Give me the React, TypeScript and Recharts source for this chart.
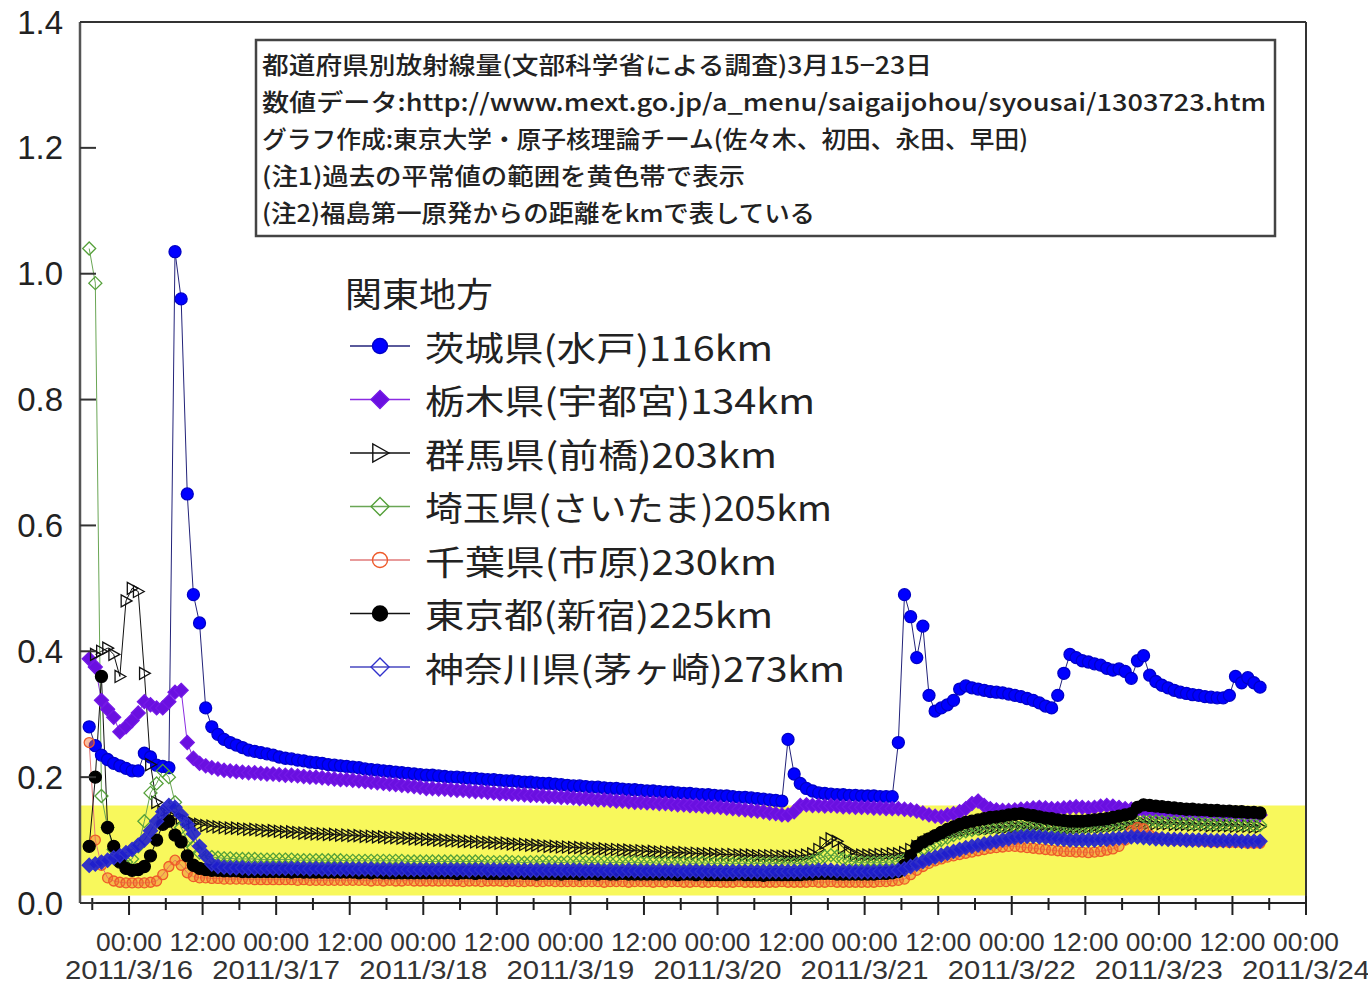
import React from "react";
import {
  LineChart,
  Line,
  XAxis,
  YAxis,
  ReferenceArea,
  ReferenceLine,
  Legend,
} from "recharts";

// hours after 2011/3/16 00:00 — hourly readings, plotted at the half hour
const HOURS: number[] = [
  -6.5, -5.5, -4.5, -3.5, -2.5, -1.5, -0.5,
  0.5, 1.5, 2.5, 3.5, 4.5, 5.5, 6.5, 7.5, 8.5, 9.5, 10.5, 11.5,
  12.5, 13.5, 14.5, 15.5, 16.5, 17.5, 18.5, 19.5, 20.5, 21.5, 22.5, 23.5,
  24.5, 25.5, 26.5, 27.5, 28.5, 29.5, 30.5, 31.5, 32.5, 33.5, 34.5, 35.5,
  36.5, 37.5, 38.5, 39.5, 40.5, 41.5, 42.5, 43.5, 44.5, 45.5, 46.5, 47.5,
  48.5, 49.5, 50.5, 51.5, 52.5, 53.5, 54.5, 55.5, 56.5, 57.5, 58.5, 59.5,
  60.5, 61.5, 62.5, 63.5, 64.5, 65.5, 66.5, 67.5, 68.5, 69.5, 70.5, 71.5,
  72.5, 73.5, 74.5, 75.5, 76.5, 77.5, 78.5, 79.5, 80.5, 81.5, 82.5, 83.5,
  84.5, 85.5, 86.5, 87.5, 88.5, 89.5, 90.5, 91.5, 92.5, 93.5, 94.5, 95.5,
  96.5, 97.5, 98.5, 99.5, 100.5, 101.5, 102.5, 103.5, 104.5, 105.5, 106.5, 107.5,
  108.5, 109.5, 110.5, 111.5, 112.5, 113.5, 114.5, 115.5, 116.5, 117.5, 118.5, 119.5,
  120.5, 121.5, 122.5, 123.5, 124.5, 125.5, 126.5, 127.5, 128.5, 129.5, 130.5, 131.5,
  132.5, 133.5, 134.5, 135.5, 136.5, 137.5, 138.5, 139.5, 140.5, 141.5, 142.5, 143.5,
  144.5, 145.5, 146.5, 147.5, 148.5, 149.5, 150.5, 151.5, 152.5, 153.5, 154.5, 155.5,
  156.5, 157.5, 158.5, 159.5, 160.5, 161.5, 162.5, 163.5, 164.5, 165.5, 166.5, 167.5,
  168.5, 169.5, 170.5, 171.5, 172.5, 173.5, 174.5, 175.5, 176.5, 177.5, 178.5, 179.5,
  180.5, 181.5, 182.5, 183.5, 184.5,
];

// μSv/h, one row = 12 hours
const IBARAKI = [
  0.28, 0.25, 0.235, 0.228, 0.222, 0.218, 0.214,
  0.21, 0.21, 0.238, 0.232, 0.219, 0.217, 0.215, 1.035, 0.96, 0.65, 0.49, 0.445,
  0.31, 0.28, 0.268, 0.26, 0.255, 0.251, 0.247, 0.243, 0.241, 0.239, 0.237, 0.235,
  0.232, 0.23, 0.229, 0.227, 0.226, 0.224, 0.223, 0.222, 0.22, 0.219, 0.218, 0.217,
  0.216, 0.215, 0.213, 0.212, 0.211, 0.21, 0.209, 0.208, 0.207, 0.206, 0.205, 0.204,
  0.203, 0.203, 0.202, 0.201, 0.2, 0.2, 0.199, 0.198, 0.198, 0.197, 0.196, 0.196,
  0.195, 0.194, 0.194, 0.193, 0.192, 0.192, 0.191, 0.19, 0.19, 0.189, 0.188, 0.187,
  0.186, 0.186, 0.185, 0.184, 0.184, 0.183, 0.182, 0.182, 0.181, 0.18, 0.18, 0.179,
  0.178, 0.178, 0.177, 0.176, 0.176, 0.175, 0.174, 0.174, 0.173, 0.172, 0.172, 0.171,
  0.17, 0.17, 0.169, 0.168, 0.168, 0.167, 0.166, 0.165, 0.164, 0.163, 0.162, 0.26,
  0.205, 0.19, 0.182, 0.178, 0.175, 0.174, 0.173, 0.172, 0.172, 0.171, 0.171, 0.17,
  0.17, 0.17, 0.169, 0.169, 0.169, 0.255, 0.49, 0.455, 0.39, 0.44, 0.33, 0.305,
  0.31, 0.315, 0.322, 0.34, 0.345, 0.342, 0.34, 0.338, 0.336, 0.335, 0.334, 0.332,
  0.33, 0.328, 0.325, 0.322, 0.318, 0.313, 0.31, 0.33, 0.365, 0.395, 0.39, 0.385,
  0.383, 0.38, 0.378, 0.373, 0.37, 0.372, 0.368, 0.357, 0.385, 0.393, 0.362, 0.352,
  0.346, 0.342, 0.338, 0.335, 0.333, 0.331, 0.33, 0.328, 0.327, 0.326, 0.326, 0.33,
  0.36, 0.35, 0.358, 0.35, 0.343,
];

const TOCHIGI = [
  0.388, 0.375, 0.322, 0.308, 0.295, 0.272, 0.28,
  0.29, 0.302, 0.32, 0.315, 0.31, 0.31, 0.32, 0.335, 0.338, 0.255, 0.23, 0.222,
  0.218, 0.215, 0.213, 0.211, 0.21, 0.209, 0.208, 0.207, 0.207, 0.206, 0.205, 0.205,
  0.204, 0.203, 0.203, 0.202, 0.201, 0.2, 0.2, 0.199, 0.198, 0.197, 0.196, 0.196,
  0.195, 0.194, 0.193, 0.192, 0.191, 0.19, 0.189, 0.188, 0.187, 0.186, 0.185, 0.184,
  0.182, 0.182, 0.181, 0.181, 0.18, 0.179, 0.179, 0.178, 0.177, 0.177, 0.176, 0.175,
  0.174, 0.174, 0.173, 0.173, 0.172, 0.171, 0.171, 0.17, 0.169, 0.169, 0.168, 0.168,
  0.167, 0.166, 0.166, 0.165, 0.164, 0.164, 0.163, 0.162, 0.162, 0.161, 0.16, 0.16,
  0.159, 0.159, 0.158, 0.158, 0.157, 0.156, 0.156, 0.155, 0.155, 0.154, 0.153, 0.153,
  0.152, 0.151, 0.15, 0.149, 0.148, 0.147, 0.146, 0.145, 0.143, 0.142, 0.14, 0.14,
  0.145, 0.155, 0.156, 0.155, 0.155, 0.154, 0.155, 0.154, 0.153, 0.153, 0.152, 0.152,
  0.152, 0.151, 0.151, 0.15, 0.15, 0.15, 0.149, 0.148, 0.146, 0.143, 0.14, 0.138,
  0.137, 0.14, 0.142, 0.145, 0.15, 0.158, 0.162, 0.155, 0.15, 0.148, 0.147, 0.147,
  0.148, 0.149, 0.15, 0.151, 0.152, 0.151, 0.15, 0.15, 0.151, 0.152, 0.153, 0.152,
  0.151, 0.152, 0.154, 0.155, 0.154, 0.152, 0.15, 0.149, 0.148, 0.147, 0.147, 0.146,
  0.146, 0.145, 0.145, 0.144, 0.144, 0.144, 0.143, 0.143, 0.143, 0.142, 0.142, 0.142,
  0.142, 0.141, 0.141, 0.141, 0.14,
];

const GUNMA = [
  null, 0.395, 0.4, 0.405, 0.395, 0.36, 0.48,
  0.5, 0.495, 0.365, 0.22, 0.16, 0.145, 0.14, 0.138, 0.135, 0.13, 0.127, 0.125,
  0.123, 0.122, 0.121, 0.12, 0.119, 0.119, 0.118, 0.117, 0.117, 0.116, 0.115, 0.115,
  0.114, 0.113, 0.113, 0.112, 0.111, 0.111, 0.11, 0.11, 0.109, 0.109, 0.108, 0.108,
  0.107, 0.107, 0.106, 0.106, 0.105, 0.105, 0.104, 0.104, 0.103, 0.103, 0.102, 0.102,
  0.101, 0.101, 0.1, 0.1, 0.099, 0.099, 0.098, 0.098, 0.097, 0.097, 0.096, 0.096,
  0.095, 0.095, 0.094, 0.093, 0.093, 0.092, 0.092, 0.091, 0.09, 0.09, 0.089, 0.089,
  0.088, 0.088, 0.087, 0.087, 0.086, 0.086, 0.085, 0.085, 0.084, 0.084, 0.083, 0.083,
  0.082, 0.082, 0.081, 0.081, 0.08, 0.08, 0.08, 0.079, 0.079, 0.078, 0.078, 0.078,
  0.077, 0.077, 0.077, 0.076, 0.076, 0.076, 0.075, 0.075, 0.075, 0.075, 0.074, 0.074,
  0.074, 0.075, 0.076, 0.078, 0.085, 0.095, 0.102, 0.098, 0.088, 0.08, 0.077, 0.076,
  0.076, 0.076, 0.077, 0.077, 0.078, 0.078, 0.08, 0.085, 0.09, 0.095, 0.1, 0.104,
  0.107, 0.11, 0.112, 0.114, 0.116, 0.117, 0.118, 0.118, 0.119, 0.12, 0.12, 0.121,
  0.121, 0.121, 0.12, 0.12, 0.119, 0.119, 0.118, 0.118, 0.118, 0.119, 0.119, 0.12,
  0.12, 0.121, 0.121, 0.122, 0.123, 0.124, 0.125, 0.126, 0.127, 0.127, 0.127, 0.126,
  0.126, 0.126, 0.125, 0.125, 0.125, 0.124, 0.124, 0.124, 0.123, 0.123, 0.123, 0.123,
  0.122, 0.122, 0.122, 0.121, 0.121,
];

const SAITAMA = [
  1.04, 0.985, 0.17, 0.12, 0.085, 0.07, 0.065,
  0.07, 0.09, 0.13, 0.175, 0.19, 0.21, 0.2, 0.16, 0.12, 0.1, 0.088, 0.08,
  0.075, 0.073, 0.072, 0.071, 0.071, 0.07, 0.07, 0.07, 0.07, 0.069, 0.069, 0.069,
  0.069, 0.069, 0.069, 0.068, 0.068, 0.068, 0.068, 0.068, 0.068, 0.068, 0.068, 0.067,
  0.067, 0.067, 0.067, 0.067, 0.067, 0.067, 0.067, 0.067, 0.067, 0.066, 0.066, 0.066,
  0.066, 0.066, 0.066, 0.066, 0.066, 0.066, 0.066, 0.066, 0.066, 0.066, 0.065, 0.065,
  0.065, 0.066, 0.065, 0.065, 0.064, 0.065, 0.065, 0.066, 0.065, 0.065, 0.064, 0.065,
  0.065, 0.066, 0.065, 0.064, 0.065, 0.065, 0.064, 0.065, 0.064, 0.064, 0.065, 0.064,
  0.064, 0.064, 0.063, 0.064, 0.064, 0.063, 0.064, 0.063, 0.063, 0.064, 0.063, 0.063,
  0.063, 0.063, 0.062, 0.063, 0.063, 0.062, 0.063, 0.062, 0.062, 0.063, 0.062, 0.062,
  0.062, 0.063, 0.064, 0.066, 0.07, 0.074, 0.076, 0.074, 0.07, 0.067, 0.065, 0.064,
  0.064, 0.064, 0.064, 0.065, 0.065, 0.066, 0.068, 0.072, 0.078, 0.085, 0.09, 0.095,
  0.1, 0.104, 0.108, 0.111, 0.114, 0.116, 0.118, 0.119, 0.12, 0.121, 0.122, 0.122,
  0.122, 0.121, 0.12, 0.119, 0.118, 0.117, 0.117, 0.117, 0.118, 0.118, 0.119, 0.12,
  0.12, 0.121, 0.122, 0.123, 0.124, 0.125, 0.126, 0.127, 0.128, 0.129, 0.13, 0.13,
  0.129, 0.129, 0.128, 0.128, 0.127, 0.127, 0.127, 0.126, 0.126, 0.126, 0.126, 0.125,
  0.125, 0.125, 0.125, 0.124, 0.124,
];

const CHIBA = [
  0.255, 0.1, 0.06, 0.04, 0.035, 0.033, 0.032,
  0.032, 0.032, 0.032, 0.033, 0.035, 0.045, 0.058, 0.068, 0.06, 0.048, 0.042, 0.04,
  0.04, 0.039, 0.039, 0.038, 0.038, 0.038, 0.038, 0.038, 0.037, 0.037, 0.037, 0.037,
  0.037, 0.037, 0.037, 0.036, 0.037, 0.036, 0.036, 0.036, 0.036, 0.036, 0.036, 0.036,
  0.036, 0.036, 0.036, 0.035, 0.036, 0.035, 0.036, 0.035, 0.035, 0.036, 0.035, 0.035,
  0.035, 0.035, 0.035, 0.035, 0.035, 0.035, 0.034, 0.035, 0.035, 0.034, 0.035, 0.035,
  0.035, 0.034, 0.035, 0.034, 0.034, 0.035, 0.034, 0.034, 0.035, 0.034, 0.034, 0.034,
  0.034, 0.034, 0.034, 0.034, 0.034, 0.033, 0.034, 0.034, 0.034, 0.033, 0.034, 0.034,
  0.034, 0.033, 0.034, 0.033, 0.034, 0.034, 0.033, 0.033, 0.034, 0.033, 0.033, 0.034,
  0.033, 0.033, 0.033, 0.034, 0.033, 0.033, 0.033, 0.033, 0.033, 0.033, 0.034, 0.033,
  0.033, 0.033, 0.033, 0.034, 0.033, 0.033, 0.034, 0.033, 0.033, 0.033, 0.033, 0.033,
  0.033, 0.033, 0.034, 0.034, 0.035, 0.036, 0.038, 0.045, 0.052, 0.058, 0.063, 0.067,
  0.07, 0.073, 0.075, 0.077, 0.079, 0.081, 0.083, 0.085, 0.087, 0.088, 0.089, 0.09,
  0.09, 0.089, 0.088, 0.087, 0.086, 0.085, 0.084, 0.083, 0.082, 0.082, 0.081, 0.081,
  0.08, 0.081, 0.082, 0.084, 0.086, 0.09, 0.1, 0.115, 0.12, 0.118, 0.108, 0.104,
  0.102, 0.101, 0.1, 0.1, 0.099, 0.099, 0.098, 0.098, 0.097, 0.097, 0.097, 0.096,
  0.096, 0.096, 0.095, 0.095, 0.095,
];

const TOKYO = [
  0.09, 0.2, 0.36, 0.12, 0.09, 0.065, 0.055,
  0.052, 0.053, 0.058, 0.075, 0.1, 0.125, 0.13, 0.108, 0.097, 0.075, 0.06, 0.055,
  0.053, 0.052, 0.052, 0.051, 0.051, 0.051, 0.05, 0.05, 0.05, 0.05, 0.05, 0.05,
  0.05, 0.05, 0.049, 0.05, 0.049, 0.049, 0.049, 0.049, 0.049, 0.049, 0.049, 0.049,
  0.049, 0.048, 0.049, 0.048, 0.049, 0.048, 0.048, 0.048, 0.048, 0.048, 0.048, 0.048,
  0.048, 0.048, 0.048, 0.048, 0.048, 0.047, 0.048, 0.048, 0.047, 0.048, 0.047, 0.047,
  0.047, 0.047, 0.047, 0.048, 0.047, 0.047, 0.046, 0.047, 0.047, 0.047, 0.046, 0.047,
  0.047, 0.046, 0.047, 0.047, 0.046, 0.047, 0.046, 0.046, 0.047, 0.046, 0.046, 0.046,
  0.046, 0.046, 0.046, 0.046, 0.046, 0.045, 0.046, 0.046, 0.045, 0.046, 0.045, 0.045,
  0.045, 0.045, 0.045, 0.046, 0.045, 0.045, 0.045, 0.044, 0.045, 0.045, 0.045, 0.045,
  0.045, 0.045, 0.046, 0.046, 0.047, 0.047, 0.047, 0.046, 0.046, 0.046, 0.046, 0.046,
  0.046, 0.046, 0.047, 0.047, 0.048, 0.05, 0.06, 0.075, 0.09, 0.097, 0.102, 0.107,
  0.112, 0.117, 0.121, 0.125, 0.128, 0.13, 0.132, 0.134, 0.136, 0.137, 0.138, 0.14,
  0.141, 0.142, 0.14, 0.139, 0.137, 0.135, 0.134, 0.132, 0.131, 0.13, 0.13, 0.13,
  0.131, 0.132, 0.133, 0.134, 0.136, 0.138, 0.14, 0.142, 0.152, 0.156, 0.155, 0.154,
  0.153, 0.152, 0.151, 0.15, 0.149, 0.149, 0.148, 0.148, 0.147, 0.147, 0.146, 0.146,
  0.145, 0.145, 0.144, 0.144, 0.143,
];

const KANAGAWA = [
  0.06, 0.062, 0.065, 0.068, 0.072, 0.075, 0.08,
  0.085, 0.092, 0.1, 0.115, 0.13, 0.145, 0.155, 0.152, 0.14, 0.125, 0.11, 0.09,
  0.075, 0.062, 0.058, 0.057, 0.056, 0.056, 0.056, 0.055, 0.055, 0.055, 0.055, 0.055,
  0.055, 0.055, 0.055, 0.055, 0.055, 0.054, 0.055, 0.054, 0.054, 0.054, 0.054, 0.054,
  0.054, 0.054, 0.054, 0.054, 0.053, 0.054, 0.053, 0.053, 0.054, 0.053, 0.053, 0.053,
  0.053, 0.053, 0.053, 0.053, 0.053, 0.053, 0.053, 0.052, 0.053, 0.053, 0.052, 0.053,
  0.052, 0.053, 0.052, 0.052, 0.052, 0.052, 0.052, 0.052, 0.052, 0.052, 0.052, 0.052,
  0.052, 0.052, 0.051, 0.052, 0.052, 0.051, 0.052, 0.051, 0.051, 0.052, 0.051, 0.051,
  0.051, 0.051, 0.051, 0.051, 0.051, 0.051, 0.05, 0.051, 0.051, 0.05, 0.051, 0.05,
  0.05, 0.05, 0.05, 0.05, 0.05, 0.05, 0.05, 0.05, 0.05, 0.05, 0.05, 0.05,
  0.05, 0.05, 0.051, 0.051, 0.052, 0.052, 0.052, 0.051, 0.051, 0.05, 0.05, 0.05,
  0.05, 0.05, 0.05, 0.051, 0.051, 0.052, 0.054, 0.058, 0.062, 0.066, 0.07, 0.073,
  0.076, 0.079, 0.082, 0.085, 0.088, 0.09, 0.092, 0.094, 0.096, 0.098, 0.1, 0.102,
  0.104, 0.105, 0.106, 0.106, 0.105, 0.104, 0.103, 0.102, 0.101, 0.1, 0.1, 0.1,
  0.1, 0.1, 0.101, 0.101, 0.102, 0.103, 0.104, 0.105, 0.105, 0.104, 0.103, 0.102,
  0.102, 0.101, 0.101, 0.101, 0.1, 0.1, 0.1, 0.1, 0.099, 0.099, 0.099, 0.099,
  0.099, 0.098, 0.098, 0.098, 0.098,
];

// past normal range (yellow band)
const NORMAL_RANGE = [0.012, 0.155];

const Y_TICKS = [0, 0.2, 0.4, 0.6, 0.8, 1.0, 1.2, 1.4];
const X_TICKS = [
  -6, 0, 6, 12, 18, 24, 30, 36, 42, 48, 54, 60, 66, 72, 78, 84, 90, 96, 102,
  108, 114, 120, 126, 132, 138, 144, 150, 156, 162, 168, 174, 180, 186, 192,
];
const LABEL_HOURS = [0, 12, 24, 36, 48, 60, 72, 84, 96, 108, 120, 132, 144, 156, 168, 180, 192];
const LABEL_TIMES = [
  "00:00", "12:00", "00:00", "12:00", "00:00", "12:00", "00:00", "12:00", "00:00",
  "12:00", "00:00", "12:00", "00:00", "12:00", "00:00", "12:00", "00:00",
];
const DATE_HOURS = [0, 24, 48, 72, 96, 120, 144, 168, 192];
const DATE_LABELS = [
  "2011/3/16", "2011/3/17", "2011/3/18", "2011/3/19", "2011/3/20",
  "2011/3/21", "2011/3/22", "2011/3/23", "2011/3/24",
];

const LEGEND_TITLE = "関東地方";
const NOTE_LINES = [
  "都道府県別放射線量(文部科学省による調査)3月15−23日",
  "数値データ:http://www.mext.go.jp/a_menu/saigaijohou/syousai/1303723.htm",
  "グラフ作成:東京大学・原子核理論チーム(佐々木、初田、永田、早田)",
  "(注1)過去の平常値の範囲を黄色帯で表示",
  "(注2)福島第一原発からの距離をkmで表している",
];

type Kind = "circle" | "diamond" | "triangle";
interface SeriesDef {
  key: string;
  label: string;
  line: string;
  fill: string;
  plotFill?: string;
  stroke: string;
  kind: Kind;
  size: number;
}

const SERIES: SeriesDef[] = [
  { key: "ibaraki", label: "茨城県(水戸)116km", line: "#23237a", fill: "#0000ff", stroke: "#0000c8", kind: "circle", size: 6 },
  { key: "tochigi", label: "栃木県(宇都宮)134km", line: "#8a2be2", fill: "#6a10e0", stroke: "#7418e6", kind: "diamond", size: 7 },
  { key: "gunma", label: "群馬県(前橋)203km", line: "#111111", fill: "none", stroke: "#111111", kind: "triangle", size: 6 },
  { key: "saitama", label: "埼玉県(さいたま)205km", line: "#6aa655", fill: "none", stroke: "#55a03a", kind: "diamond", size: 6.5 },
  { key: "chiba", label: "千葉県(市原)230km", line: "#e07a7a", fill: "none", plotFill: "rgba(240,110,50,0.45)", stroke: "#ee5a2a", kind: "circle", size: 5 },
  { key: "tokyo", label: "東京都(新宿)225km", line: "#111111", fill: "#000000", stroke: "#000000", kind: "circle", size: 6 },
  { key: "kanagawa", label: "神奈川県(茅ヶ崎)273km", line: "#4848c0", fill: "none", plotFill: "rgba(30,30,205,0.9)", stroke: "#3030cc", kind: "diamond", size: 7 },
];

const VALUES: Record<string, (number | null)[]> = {
  ibaraki: IBARAKI,
  tochigi: TOCHIGI,
  gunma: GUNMA,
  saitama: SAITAMA,
  chiba: CHIBA,
  tokyo: TOKYO,
  kanagawa: KANAGAWA,
};

const rows = HOURS.map((t, i) => {
  const row: Record<string, number | null> = { t };
  SERIES.forEach((s) => {
    const v = VALUES[s.key][i];
    row[s.key] = v === undefined ? null : v;
  });
  return row;
});

const W = 1368;
const H = 983;
const LATIN = "'Liberation Sans', Arial, sans-serif";
const CJK = "'Noto Sans CJK JP', 'Noto Sans', sans-serif";

function marker(kind: Kind, cx: number, cy: number, s: number, fill: string, stroke: string, sw: number, key?: string) {
  if (kind === "circle") {
    return <circle key={key} cx={cx} cy={cy} r={s} fill={fill} stroke={stroke} strokeWidth={sw} />;
  }
  if (kind === "diamond") {
    return (
      <path
        key={key}
        d={`M${cx},${cy - s}L${cx + s},${cy}L${cx},${cy + s}L${cx - s},${cy}Z`}
        fill={fill}
        stroke={stroke}
        strokeWidth={sw}
      />
    );
  }
  return (
    <path
      key={key}
      d={`M${cx + s},${cy}L${cx - s * 0.8},${cy - s}L${cx - s * 0.8},${cy + s}Z`}
      fill={fill}
      stroke={stroke}
      strokeWidth={sw}
    />
  );
}

const makeDot = (s: SeriesDef) => (props: any) => {
  const { cx, cy, index } = props;
  const k = `${s.key}-${index}`;
  if (cx == null || cy == null || props.value == null) return <g key={k} />;
  return marker(s.kind, cx, cy, s.size, s.plotFill ?? s.fill, s.stroke, 1.3, k);
};

const YTick = (props: any) => {
  const { x, y, payload } = props;
  return (
    <g>
      <line x1={x} x2={x + 16} y1={y} y2={y} stroke="#333" strokeWidth={2} />
      <text x={x - 17} y={y} textAnchor="end" dominantBaseline="central" fontSize={33} fontFamily={LATIN} fill="#222">
        {Number(payload.value).toFixed(1)}
      </text>
    </g>
  );
};

const XTick = (props: any) => {
  const { x, y, payload } = props;
  const h = payload.value as number;
  const major = h % 12 === 0;
  const li = LABEL_HOURS.indexOf(h);
  const di = DATE_HOURS.indexOf(h);
  return (
    <g>
      <line x1={x} x2={x} y1={y - (major ? 7 : 5)} y2={y + (major ? 12 : 7)} stroke="#222" strokeWidth={2} />
      {li >= 0 && (
        <text x={x} y={y + 39} textAnchor="middle" dominantBaseline="central" fontSize={25} fontFamily={LATIN} fill="#333" textLength={66} lengthAdjust="spacingAndGlyphs">
          {LABEL_TIMES[li]}
        </text>
      )}
      {di >= 0 && (
        <text x={x} y={y + 67} textAnchor="middle" dominantBaseline="central" fontSize={25} fontFamily={LATIN} fill="#333" textLength={128} lengthAdjust="spacingAndGlyphs">
          {DATE_LABELS[di]}
        </text>
      )}
    </g>
  );
};

// widths of legend labels as drawn in the original
const LEGEND_WIDTHS = [348, 390, 352, 407, 352, 348, 420];

const LegendBox = () => (
  <svg width={540} height={440} style={{ display: "block" }}>
    <text x={5} y={30} dominantBaseline="central" fontSize={34} fontFamily={CJK} fill="#222" textLength={148} lengthAdjust="spacingAndGlyphs">
      {LEGEND_TITLE}
    </text>
    {SERIES.map((s, i) => {
      const cy = 84 + i * 53.5;
      return (
        <g key={s.key}>
          <line x1={10} x2={70} y1={cy} y2={cy} stroke={s.line} strokeWidth={1.5} />
          {marker(s.kind, 40, cy, s.kind === "circle" ? 7.5 : 9, s.fill, s.stroke, 1.4)}
          <text x={85} y={cy} dominantBaseline="central" fontSize={34} fontFamily={CJK} fill="#222" textLength={LEGEND_WIDTHS[i]} lengthAdjust="spacingAndGlyphs">
            {s.label}
          </text>
        </g>
      );
    })}
  </svg>
);

const NOTE_WIDTHS = [670, 1004, 766, 483, 553];

export default function App() {
  return (
    <div style={{ position: "absolute", left: 0, top: 0, width: W, height: H, background: "#fff" }}>
      <LineChart width={W} height={H} data={rows} margin={{ top: 22, right: 62, bottom: 10, left: 20 }}>
        <ReferenceArea
          x1={-8}
          x2={192}
          y1={NORMAL_RANGE[0]}
          y2={NORMAL_RANGE[1]}
          fill="#f8f85c"
          fillOpacity={1}
          stroke="none"
        />
        <XAxis
          type="number"
          dataKey="t"
          domain={[-8, 192]}
          ticks={X_TICKS}
          interval={0}
          tickSize={0}
          tickMargin={0}
          tickLine={false}
          axisLine={{ stroke: "#222", strokeWidth: 2 }}
          tick={<XTick />}
          height={70}
          allowDataOverflow
        />
        <YAxis
          type="number"
          domain={[0, 1.4]}
          ticks={Y_TICKS}
          interval={0}
          tickSize={0}
          tickMargin={0}
          tickLine={false}
          axisLine={{ stroke: "#555", strokeWidth: 2.5 }}
          tick={<YTick />}
          width={60}
          allowDataOverflow
        />
        <ReferenceLine y={1.4} stroke="#333" strokeWidth={2} />
        <ReferenceLine x={192} stroke="#333" strokeWidth={2} />
        {SERIES.map((s) => (
          <Line
            key={s.key}
            type="linear"
            dataKey={s.key}
            stroke={s.line}
            strokeWidth={1}
            dot={makeDot(s)}
            activeDot={false}
            connectNulls={false}
            isAnimationActive={false}
          />
        ))}
        <Legend
          layout="vertical"
          align="center"
          verticalAlign="middle"
          wrapperStyle={{ left: 340, top: 262, width: 540, height: 440 }}
          content={() => <LegendBox />}
        />
      </LineChart>
      <svg width={W} height={H} style={{ position: "absolute", left: 0, top: 0, pointerEvents: "none" }}>
        <rect x={256} y={40} width={1019} height={196} fill="#fff" stroke="#444" strokeWidth={2.5} />
        {NOTE_LINES.map((s, i) => (
          <text
            key={i}
            x={262}
            y={63 + i * 37}
            dominantBaseline="central"
            fontSize={24}
            fontWeight={500}
            fontFamily={CJK}
            fill="#222"
            textLength={NOTE_WIDTHS[i]}
            lengthAdjust="spacingAndGlyphs"
          >
            {s}
          </text>
        ))}
      </svg>
    </div>
  );
}
